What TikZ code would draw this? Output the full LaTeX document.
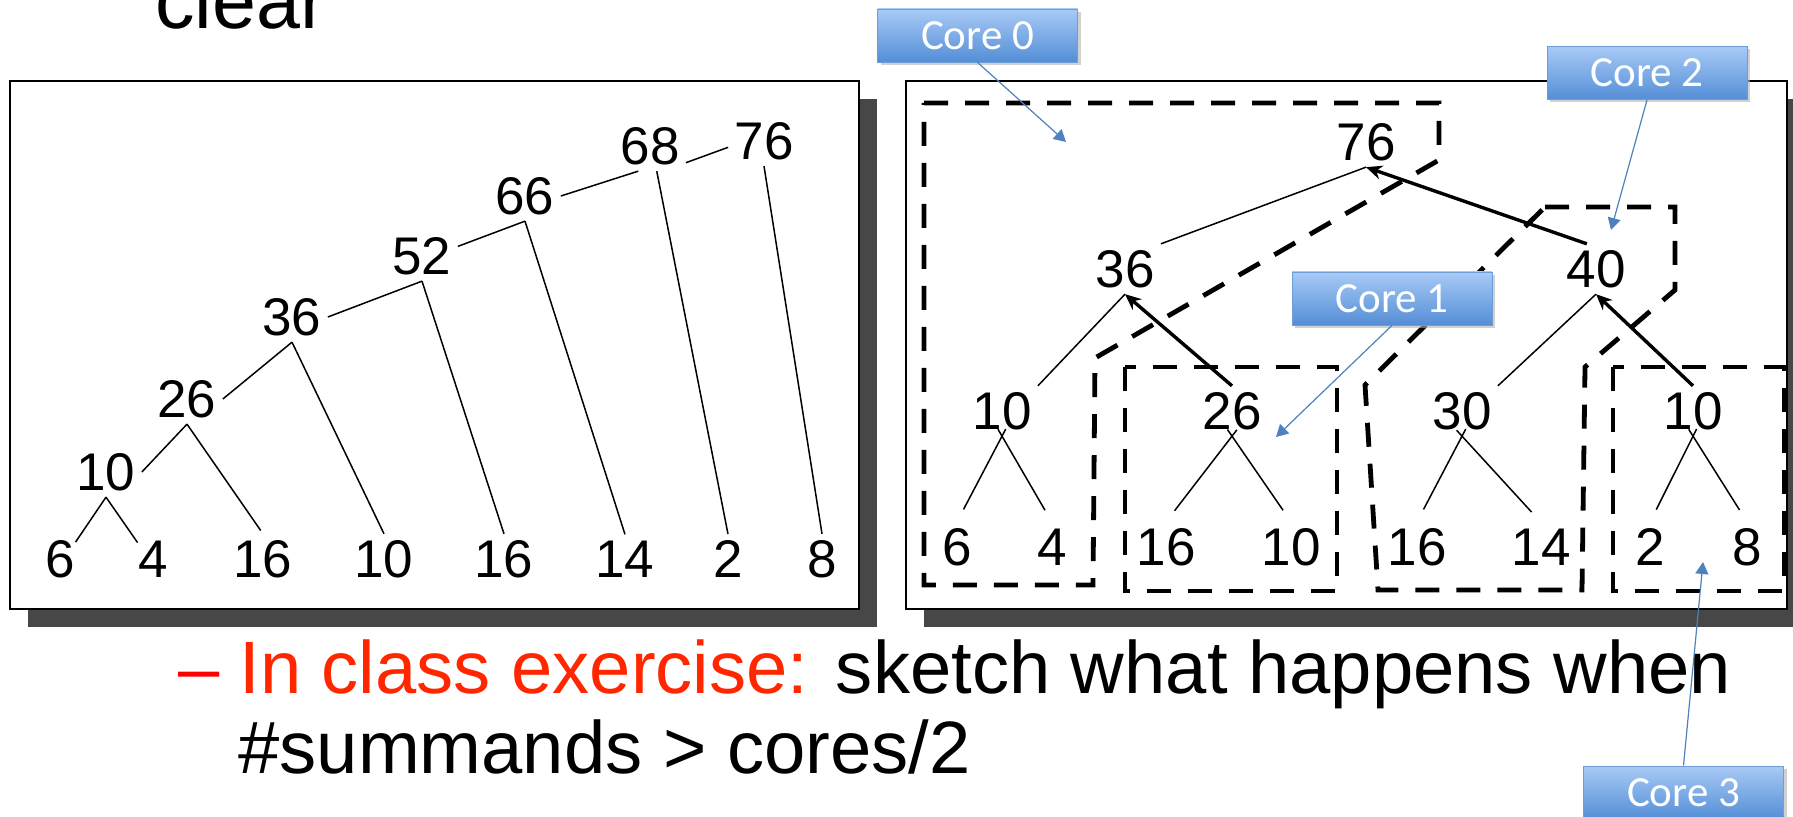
\documentclass[tikz,border=0pt]{standalone}
\usepackage{fontspec}
\setmainfont{Liberation Sans}
\newfontfamily\corefont{Carlito}
\usepackage{xcolor}
\usepackage{tikz}
\usetikzlibrary{arrows.meta, shadows}
\definecolor{coretop}{RGB}{168,202,246}
\definecolor{corebottom}{RGB}{84,142,214}
\definecolor{coreedge}{RGB}{110,158,214}
\definecolor{coreline}{RGB}{79,129,189}
\definecolor{exercise}{RGB}{255,38,0}

\begin{document}
\begin{tikzpicture}[
    x=0.5pt, y=-0.5pt,
    num/.style={font=\fontsize{26.5}{30}\selectfont, inner sep=3pt},
    link/.style={line width=0.75pt},
    leaf/.style={line width=0.75pt, shorten <=-4pt, shorten >=7pt},
    reduce/.style={line width=1.7pt, -{Stealth[length=8pt,width=7pt]}},
    corearea/.style={line width=2.4pt, dash pattern=on 12pt off 8.5pt},
    panel/.style={draw, line width=1pt, fill=white,
        drop shadow={shadow xshift=9pt, shadow yshift=-9pt, fill=black!72, opacity=1}},
    core/.style={draw=coreedge, top color=coretop, bottom color=corebottom,
        minimum width=100pt, minimum height=26.5pt, text=white,
        font=\corefont\fontsize{21.5}{24}\selectfont,
        drop shadow={shadow xshift=1.5pt, shadow yshift=-1.5pt, fill=black!30, opacity=0.6}},
    pointer/.style={draw=coreline, line width=0.6pt, -{Triangle[length=6pt,width=6.5pt]}},
    slide/.style={font=\fontsize{37.1}{40}\selectfont, inner sep=0pt}
]
    \useasboundingbox (0,0) rectangle (1793,817);

    % Slide text
    \node[slide, anchor=base west, font=\fontsize{39.5}{42}\selectfont] (word) at (155,29) {clear};
    \node[slide, anchor=base west, text=red] (bullet) at (178,693) {--};
    \node[slide, anchor=base west] (exercise) at (239,693) {\textcolor{exercise}{In class exercise:} sketch what happens when};
    \node[slide, anchor=base west] (summands) at (238,773) {\#summands > cores/2};

    % Panels
    \path[panel] (10,81) rectangle (859,609);
    \path[panel] (906,81) rectangle (1787,609);

    % Serial sum
    \node[num] (s76) at (764,141) {76};
    \node[num] (s68) at (650,146) {68};
    \node[num] (s66) at (525,196) {66};
    \node[num] (s52) at (422,256) {52};
    \node[num] (s36) at (292,317) {36};
    \node[num] (s26) at (187,399) {26};
    \node[num] (s10) at (106,472) {10};
    \node[num] (sl1) at (60,559) {6};
    \node[num] (sl2) at (153,559) {4};
    \node[num] (sl3) at (263,559) {16};
    \node[num] (sl4) at (384,559) {10};
    \node[num] (sl5) at (504,559) {16};
    \node[num] (sl6) at (625,559) {14};
    \node[num] (sl7) at (728,559) {2};
    \node[num] (sl8) at (822,559) {8};

    \draw[link] (s10.east) -- (s26.south);
    \draw[link] (s26.east) -- (s36.south);
    \draw[link] (s36.east) -- (s52.south);
    \draw[link] (s52.15) -- (s66.south);
    \draw[link] (s66.east) -- (s68.-115);
    \draw[link] (s68.-25) -- (s76.190);
    \draw[link, shorten >=-5pt] (s10.south) -- (sl1.north east);
    \draw[link, shorten >=-5pt] (s10.south) -- (sl2.north west);
    \draw[link, shorten >=2pt] (s26.south) -- (sl3.north);
    \draw[link] (s36.south) -- (sl4.north);
    \draw[link] (s52.south) -- (sl5.north);
    \draw[link] (s66.south) -- (sl6.north);
    \draw[link] (s68.-75) -- (sl7.north);
    \draw[link] (s76.south) -- (sl8.north);

    % Core areas
    \draw[corearea] (924,103) -- (1439,103) -- (1439,160) -- (1095,358) -- (1093,585) -- (924,585) -- cycle;
    \draw[corearea] (1125,367) rectangle (1337,591);
    \draw[corearea] (1545,207) -- (1675,207) -- (1675,290) -- (1585,367) -- (1582,590) -- (1378,590) -- (1365,385) -- cycle;
    \draw[corearea] (1613,367) rectangle (1784,591);

    % Parallel sum
    \node[num] (p76) at (1366,142) {76};
    \node[num] (p36) at (1125,269) {36};
    \node[num] (p40) at (1596,269) {40};
    \node[num] (p10a) at (1002,411) {10};
    \node[num] (p26) at (1232,411) {26};
    \node[num] (p30) at (1462,411) {30};
    \node[num] (p10b) at (1693,411) {10};
    \node[num] (pl1) at (957,547) {6};
    \node[num] (pl2) at (1052,547) {4};
    \node[num] (pl3) at (1166,547) {16};
    \node[num] (pl4) at (1291,547) {10};
    \node[num] (pl5) at (1417,547) {16};
    \node[num] (pl6) at (1541,547) {14};
    \node[num] (pl7) at (1650,547) {2};
    \node[num] (pl8) at (1747,547) {8};

    \draw[link] (p36.north east) -- (p76.south);
    \draw[reduce] (p40.110) -- (p76.south);
    \draw[link] (p10a.north east) -- (p36.south);
    \draw[reduce] (p26.north) -- (p36.south);
    \draw[link] (p30.north east) -- (p40.south);
    \draw[reduce] (p10b.north) -- (p40.south);
    \draw[leaf] (p10a.south) -- (pl1.north);
    \draw[leaf] (p10a.south) -- (pl2.north);
    \draw[leaf] (p26.south) -- (pl3.north);
    \draw[leaf] (p26.south) -- (pl4.north);
    \draw[leaf] (p30.south) -- (pl5.north);
    \draw[leaf] (p30.south) -- (pl6.north);
    \draw[leaf] (p10b.south) -- (pl7.north);
    \draw[leaf] (p10b.south) -- (pl8.north);

    % Core labels
    \node[core] (c0) at (977.5,35.5) {Core 0};
    \node[core] (c1) at (1392,298.5) {Core 1};
    \node[core] (c2) at (1647,73) {Core 2};
    \node[core] (c3) at (1683.5,792.5) {Core 3};
    \coordinate (t0) at (1066,142);
    \coordinate (t1) at (1276,437);
    \coordinate (t2) at (1611,230);
    \coordinate (t3) at (1703,562);
    \draw[pointer] (c0.south) -- (t0);
    \draw[pointer] (c1.south) -- (t1);
    \draw[pointer] (c2.south) -- (t2);
    \draw[pointer] (c3.north) -- (t3);
\end{tikzpicture}
\end{document}
